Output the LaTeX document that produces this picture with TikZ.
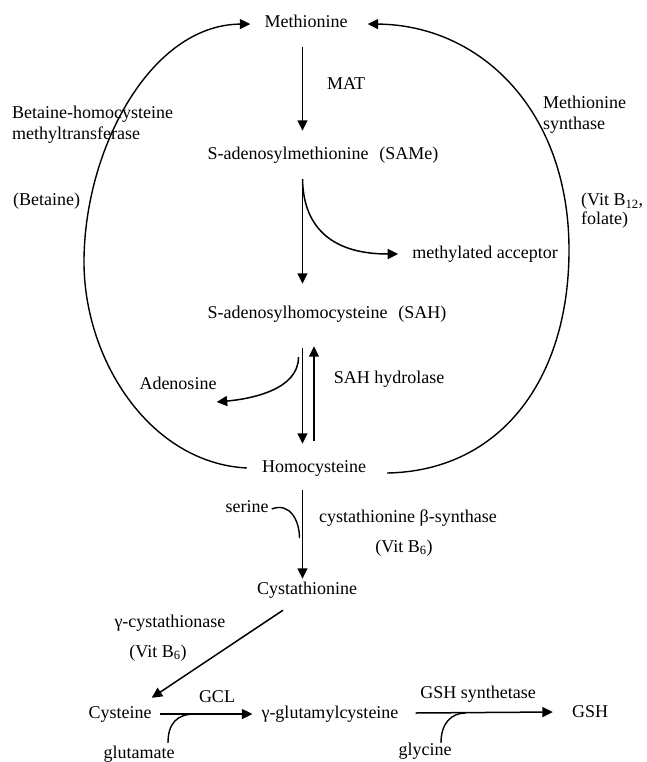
\documentclass[tikz,border=0pt]{standalone}
\usepackage{fontspec}
\setmainfont{Liberation Serif}
\usetikzlibrary{arrows.meta,calc}
\begin{document}
\begin{tikzpicture}[x=1pt,y=-1pt,
  lbl/.style={inner sep=0pt, text height=12pt, text depth=4pt, font=\fontsize{18}{22}\selectfont},
  mlbl/.style={inner sep=0pt, align=left, font=\fontsize{18}{21}\selectfont},
  arr/.style={-{Triangle[length=10.5pt,width=10pt]}, line width=1.5pt},
  ring/.style={-{Triangle[length=10.5pt,width=10pt]}, line width=1.4pt},
  hook/.style={line width=1.4pt}]
\useasboundingbox (0,0) rectangle (647,762);

\coordinate (axis) at (302.5,0);
\coordinate (axisR) at (314,0);

% nodes
\node[lbl] (Met) at (306,24) {Methionine};
\node[lbl] (MAT) at (346,86) {MAT};
\node[lbl] (SAMe) at (323,156) {S-adenosylmethionine\hspace{0.6em}(SAMe)};
\node[lbl] (macc) at (485,254) {methylated acceptor};
\node[lbl] (SAH) at (327,314) {S-adenosylhomocysteine\hspace{0.6em}(SAH)};
\node[lbl] (Ado) at (178,385) {Adenosine};
\node[lbl] (SAHh) at (389,379) {SAH hydrolase};
\node[lbl] (Hcy) at (314,468) {Homocysteine};
\node[lbl] (serine) at (247,508) {serine};
\node[lbl] (CBS) at (408,518) {cystathionine β-synthase};
\node[lbl] (VBa) at (404,548) {(Vit B\textsubscript{6})};
\node[lbl] (Cysta) at (307,590) {Cystathionine};
\node[lbl] (gcys) at (170,623) {γ-cystathionase};
\node[lbl] (VBb) at (158,653) {(Vit B\textsubscript{6})};
\node[lbl] (Cys) at (120,714) {Cysteine};
\node[lbl] (GCL) at (217,698) {GCL};
\node[lbl] (glutamate) at (139,754) {glutamate};
\node[lbl] (ggc) at (330,714) {γ-glutamylcysteine};
\node[lbl] (GSHs) at (478,694) {GSH synthetase};
\node[lbl] (glycine) at (425,751) {glycine};
\node[lbl] (GSH) at (590,713) {GSH};
\node[mlbl, anchor=north west] (BHMT) at (12,106) {Betaine-homocysteine\\methyltransferase};
\node[lbl, anchor=west] (Bet) at (13,201) {(Betaine)};
\node[mlbl, anchor=north west] (MS) at (543,96) {Methionine\\synthase};
\node[mlbl, anchor=north west, font=\fontsize{18}{19}\selectfont] (VB12) at (581,193) {(Vit B\textsubscript{12},\\folate)};

% main vertical arrows
\draw[arr] ($(Met.south -| axis)+(0,15)$) -- ($(SAMe.north -| axis)+(0,-17)$);
\draw[arr] ($(SAMe.south -| axis)+(0,15)$) -- ($(SAH.north -| axis)+(0,-22)$);
\draw[arr] ($(SAMe.south -| axis)+(0,15)$) .. controls +(1,52) and +(-62,0) .. ($(macc.west)+(-14,0)$);

\draw[arr] ($(SAH.south -| axis)+(0,26)$) -- ($(Hcy.north -| axis)+(0,-16)$);
\draw[arr] ($(Hcy.north -| axisR)+(0,-19)$) -- ($(SAH.south -| axisR)+(0,24)$);
\draw[arr] ($(SAH.south -| axis)+(-4,35)$) .. controls +(0,33) and +(33,-3) .. ($(Ado.east)+(0,17)$);

% cycle arcs
\draw[ring] ($(Hcy.west)+(-15,0)$) .. controls (150,463) and (84,360) .. (84,262)
  .. controls (84,150) and (150,25) .. ($(Met.west)+(-14,0)$);
\draw[ring] ($(Hcy.east)+(21,5)$) .. controls (500,471) and (569,380) .. (569,250)
  .. controls (569,110) and (480,25) .. ($(Met.east)+(20,0)$);

% transsulfuration
\draw[arr] ($(Hcy.south -| axis)+(0,14)$) -- ($(Cysta.north -| axis)+(0,-3)$);
\draw[hook] ($(serine.east)+(3,1)$) .. controls +(18,-7) and +(0,-18) .. ($(Hcy.south -| axis)+(-3,62)$);
\draw[arr] ($(Cysta.south)+(-24,12)$) -- ($(Cys.north east)+(0,-8)$);

% glutathione synthesis
\draw[arr] ($(Cys.east)+(8,0)$) -- ($(ggc.west)+(-9,0)$);
\draw[hook] ($(glutamate.north)+(29,-3)$) .. controls +(0,-20) and +(-17,0) .. ($(Cys.east)+(43,0)$);
\draw[arr] ($(ggc.east)+(17,-1)$) -- ($(GSH.west)+(-19,-1)$);
\draw[hook] ($(glycine.north)+(16,0)$) .. controls +(0,-20) and +(-14,0) .. ($(ggc.east)+(67,-1)$);
\end{tikzpicture}
\end{document}
